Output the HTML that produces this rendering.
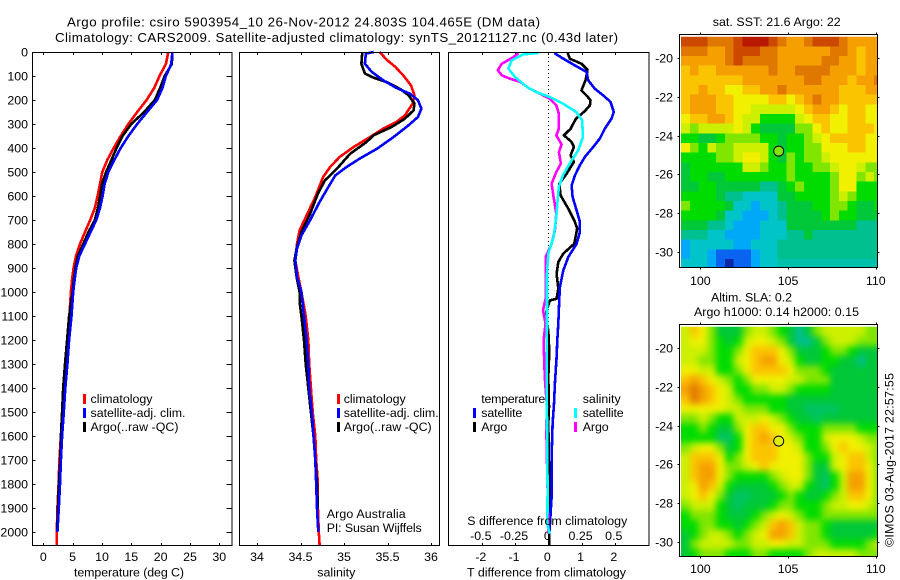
<!DOCTYPE html>
<html>
<head>
<meta charset="utf-8">
<title>Argo profile 5903954_10</title>
<style>
html,body{margin:0;padding:0;background:#fff;}
svg{display:block;}
text{font-family:"Liberation Sans",sans-serif;font-size:12.4px;fill:#000;}
text.big{font-size:13.3px;}
.frame{fill:none;stroke:#000;stroke-width:1;shape-rendering:crispEdges;}
.tick{stroke:#000;stroke-width:1;shape-rendering:crispEdges;}
.line{fill:none;stroke-width:2.6;stroke-linejoin:round;shape-rendering:crispEdges;}
</style>
</head>
<body>
<svg id="chart" xmlns="http://www.w3.org/2000/svg" width="900" height="580" viewBox="0 0 900 580">
<defs>
<clipPath id="clip-sst"><rect x="681" y="36.7" width="196.5" height="231"/></clipPath>
<clipPath id="clip-sla"><rect x="681" y="326.7" width="196.5" height="229.8"/></clipPath>
<filter id="smooth-sla" filterUnits="userSpaceOnUse" x="660" y="305" width="240" height="275" color-interpolation-filters="sRGB">
<feGaussianBlur stdDeviation="3.4"/>
<feComponentTransfer><feFuncA type="linear" slope="30"/></feComponentTransfer>
</filter>
</defs>
<rect x="0" y="0" width="900" height="580" fill="#fff"/>

<text class="big" x="67" y="26.5" textLength="473">Argo profile: csiro 5903954_10 26-Nov-2012 24.803S 104.465E (DM data)</text>
<text class="big" x="55" y="42" textLength="563">Climatology: CARS2009. Satellite-adjusted climatology: synTS_20121127.nc (0.43d later)</text>

<g clip-path="url(#clip-sst)"><g id="map-sst"></g></g>
<g clip-path="url(#clip-sla)"><g id="map-sla" filter="url(#smooth-sla)"></g></g>
<g id="ticks"></g>
<g id="series"></g>

<rect class="frame" x="32.5" y="52.5" width="199.5" height="493"/>
<rect class="frame" x="239.5" y="52.5" width="200" height="493"/>
<rect class="frame" x="448.5" y="52.5" width="200.5" height="493"/>
<rect class="frame" x="679.5" y="34.5" width="198" height="233"/>
<rect class="frame" x="679.5" y="324.5" width="198" height="232"/>

<g>
<rect x="83" y="394" width="3" height="10" fill="#f00"/>
<rect x="83" y="408" width="3" height="10" fill="#00f"/>
<rect x="83" y="422" width="3" height="10" fill="#000"/>
<text x="90.5" y="403" textLength="62">climatology</text>
<text x="90.5" y="417" textLength="95">satellite-adj. clim.</text>
<text x="90.5" y="431" textLength="88">Argo(..raw -QC)</text>
</g>
<g>
<rect x="337" y="394" width="3" height="10" fill="#f00"/>
<rect x="337" y="408" width="3" height="10" fill="#00f"/>
<rect x="337" y="422" width="3" height="10" fill="#000"/>
<text x="343.7" y="403" textLength="62">climatology</text>
<text x="343.7" y="417" textLength="95">satellite-adj. clim.</text>
<text x="343.7" y="431" textLength="88">Argo(..raw -QC)</text>
</g>
<text x="326.7" y="518" textLength="79">Argo Australia</text>
<text x="326.7" y="532" textLength="95">PI: Susan Wijffels</text>

<g>
<text x="481.3" y="403" textLength="64">temperature</text>
<rect x="473" y="408" width="3" height="10" fill="#00f"/>
<rect x="473" y="422" width="3" height="10" fill="#000"/>
<text x="481.3" y="417" textLength="41">satellite</text>
<text x="481.3" y="431" textLength="26">Argo</text>
<text x="582.7" y="403" textLength="38">salinity</text>
<rect x="574" y="408" width="3" height="10" fill="#0ff"/>
<rect x="574" y="422" width="3" height="10" fill="#f0f"/>
<text x="582.7" y="417" textLength="41">satellite</text>
<text x="582.7" y="431" textLength="26">Argo</text>
</g>

<text x="129" y="576.5" text-anchor="middle" textLength="110">temperature (deg C)</text>
<text x="336.3" y="576.5" text-anchor="middle" textLength="38">salinity</text>
<text x="467" y="576.5" textLength="159">T difference from climatology</text>
<text x="467.3" y="525" textLength="160">S difference from climatology</text>

<text x="776.7" y="26" text-anchor="middle" textLength="128">sat. SST: 21.6 Argo: 22</text>
<text x="711" y="301.5" textLength="81">Altim. SLA: 0.2</text>
<text x="694" y="316" textLength="165">Argo h1000: 0.14 h2000: 0.15</text>
<text x="893.5" y="460" text-anchor="middle" textLength="174" transform="rotate(-90 893.5 460)">©IMOS 03-Aug-2017 22:57:55</text>
</svg>

<script>
// ---- profile data ----
const depthLevels = [0,50,100,150,200,250,300,350,400,450,500,550,600,650,700,750,800,850,900,950,1000,1100,1200,1300,1400,1500,1600,1700,1800,1900,2000,2054];
const tempClimatology = [21.3,20.9,19.8,18.9,17.6,16,14.5,13.2,12,10.9,10.05,9.66,9.26,8.8,8,7.1,6.25,5.57,5.17,4.9,4.7,4.45,4.1,3.8,3.5,3.2,3,2.75,2.6,2.4,2.3,2.3];
const tempSatellite = [22,21.8,20.9,20.3,19.4,17.7,16,14.5,13.2,12.1,11.1,10.45,10.1,9.66,9.03,8.07,7.1,6.14,5.6,5.34,5.1,4.8,4.4,4.1,3.75,3.5,3.2,3,2.85,2.65,2.4];
const tempArgo = [22,21.9,20.7,19.9,19,17.2,15,13.5,12.5,11.6,10.7,10,9.7,9.3,8.8,7.7,6.8,5.9,5.45,5.2,5,4.4,4.05,3.7,3.4,3.2,3,2.9,2.65,2.5,2.35];

const salClimDepths = [0,32,62,97,139,180,215,264,292,319,354,396,437,479,521,604,681,743,799,868,937,1000,1100,1200,1300,1400,1500,1600,1700,1800,1900,2000,2054];
const salClimatology = [35.41,35.49,35.59,35.68,35.77,35.81,35.79,35.7,35.6,35.45,35.3,35.11,34.95,34.84,34.76,34.67,34.57,34.49,34.46,34.44,34.475,34.51,34.56,34.59,34.6,34.62,34.64,34.67,34.68,34.7,34.7,34.71,34.72];
const salSatDepths = [0,7,49,83,118,149,174,201,236,271,306,354,403,444,479,514,563,625,701,764,819,868,937,1000,1100,1200,1300,1400,1500,1600,1700,1800,1900,2000];
const salSatellite = [35.34,35.25,35.24,35.32,35.45,35.6,35.76,35.85,35.89,35.85,35.74,35.57,35.38,35.18,35.03,34.9,34.82,34.72,34.61,34.51,34.46,34.44,34.46,34.51,34.54,34.57,34.59,34.6,34.63,34.65,34.67,34.68,34.69,34.705];
const salArgoDepths = [0,49,90,107,125,153,180,215,243,278,312,347,375,424,486,535,590,674,750,812,868,937,1000,1040,1100,1200,1300,1400,1500,1600,1700,1800,1900];
const salArgo = [35.21,35.2,35.24,35.34,35.49,35.64,35.74,35.81,35.8,35.7,35.55,35.34,35.26,35.07,34.92,34.78,34.7,34.61,34.51,34.46,34.43,34.455,34.49,34.49,34.51,34.54,34.56,34.59,34.62,34.65,34.67,34.69,34.7];

const tDiffArgoDepths = [4,28,49,74,90,118,160,181,201,222,246,278,320,347,375,396,431,458,507,549,597,653,708,736,799,840,875,924,986,1028,1035,1076,1104,1160,1250,1354,1479,1549,1715,1826,1965,2054];
const tDiffArgo = [0.58,0.65,1,1.18,1.16,1.12,1,1.15,1.27,1.25,1.1,0.83,0.67,0.47,0.7,0.77,0.67,0.77,0.55,0.33,0.37,0.6,0.8,0.87,0.78,0.45,0.3,0.25,0.3,0.25,0.05,-0.05,-0.07,0,0.03,0,0.02,0,0.02,0.05,0.03,0.03];
const tDiffSatDepths = [4,28,60,83,118,153,181,208,250,278,319,361,396,437,472,514,556,604,660,708,750,799,854,910,979,1028,1132,1201,1271,1382,1465,1549,1688,1854,1965,2007];
const tDiffSatellite = [0.18,0.45,0.85,1.15,1.2,1.4,1.65,1.87,1.97,1.9,1.7,1.55,1.35,1.1,0.95,0.8,0.7,0.73,0.85,0.95,0.95,0.85,0.6,0.45,0.35,0.33,0.3,0.27,0.25,0.2,0.17,0.13,0.1,0.1,0.05,0.03];
const sDiffArgoDepths = [4,21,49,76,97,111,125,153,174,194,222,257,292,319,347,385,417,465,500,549,604,674,743,799,854,924,1028,1076,1132,1201,1299,1368,1479,1563,1826,2007];
const sDiffArgo = [-0.225,-0.26,-0.35,-0.38,-0.35,-0.29,-0.21,-0.14,-0.06,0.01,0.06,0.08,0.08,0.08,0.06,0.1,0.08,0.095,0.06,0.025,0.04,0.06,0.05,0.025,-0.02,-0.02,-0.02,-0.04,-0.02,-0.035,-0.03,-0.025,-0.01,-0.015,-0.005,0];
const sDiffSatDepths = [4,10,35,69,104,146,167,187,215,250,285,354,410,465,514,562,618,687,771,840,924,1028,1132,1340,1549,1826,1965,2007];
const sDiffSatellite = [-0.075,-0.19,-0.275,-0.3,-0.25,-0.16,-0.09,0.01,0.11,0.21,0.255,0.26,0.225,0.16,0.11,0.08,0.07,0.06,0.04,0,-0.01,-0.01,-0.01,-0.012,-0.01,-0.005,-0.007,0.01];

// ---- tick labels ----
const depthTicks = [0,100,200,300,400,500,600,700,800,900,1000,1100,1200,1300,1400,1500,1600,1700,1800,1900,2000];
const tempTicks = [0,5,10,15,20,25,30];
const salTicks = [34,34.5,35,35.5,36];
const tDiffTicks = [-2,-1,0,1,2];
const sDiffTicks = [-0.5,-0.25,0,0.25,0.5];
const lonTicks = [100,105,110];
const latTicks = [-20,-22,-24,-26,-28,-30];

// ---- map data (colour level per half-degree cell, north to south) ----
const sstLevels = [
[13,13,13,12,12,12,13,14,14,14,13,12,11,11,12,13,13,13,12,11,11,11,11],
[12,12,12,11,11,12,13,13,13,12,12,11,11,11,11,11,11,12,12,11,10,11,11],
[11,11,11,11,11,12,13,12,12,12,12,11,11,11,11,11,12,12,11,11,10,11,11],
[10,11,10,10,11,11,11,11,11,11,12,11,11,12,12,12,12,11,11,11,10,11,11],
[10,10,10,10,10,10,10,11,11,11,11,11,11,11,12,12,11,11,11,10,11,11,12],
[10,10,11,10,10,9,9,10,10,11,11,12,11,11,11,11,11,11,10,10,10,11,11],
[10,11,11,11,10,10,9,9,9,9,10,10,9,10,11,12,11,11,10,10,10,10,10],
[10,11,11,11,10,10,9,9,8,8,8,8,8,9,10,11,11,10,9,10,10,9,9],
[9,10,10,11,11,10,9,8,8,6,6,6,6,8,9,10,10,9,9,10,10,9,9],
[8,7,8,8,8,8,9,8,6,5,5,5,5,7,7,9,10,9,9,10,10,10,9],
[6,6,5,5,6,7,7,7,7,6,6,5,6,6,7,8,9,10,10,10,10,9,9],
[9,7,6,8,7,7,8,8,8,8,6,5,6,6,7,7,9,9,9,10,10,9,9],
[6,6,6,6,7,7,8,9,9,8,6,5,7,6,7,7,8,9,9,9,9,9,9],
[5,6,6,6,6,6,6,8,8,7,6,6,7,6,6,7,7,8,9,9,8,7,7],
[5,6,6,5,5,6,6,6,6,6,6,6,7,6,6,6,6,7,9,9,7,8,7],
[5,5,6,6,5,5,5,5,5,4,4,5,6,7,6,6,6,7,9,9,6,6,6],
[6,6,6,6,5,4,4,3,3,3,3,5,5,6,6,6,6,7,8,7,6,6,6],
[7,6,6,6,6,5,3,3,2,3,3,4,5,5,5,6,6,7,7,6,5,5,6],
[6,6,6,6,5,3,3,2,2,2,3,4,5,5,5,5,6,7,6,6,5,5,5],
[5,5,5,4,4,3,2,2,2,3,3,3,5,5,5,5,5,5,5,5,4,4,4],
[4,4,4,3,3,2,2,2,2,3,3,3,4,4,5,4,4,4,4,4,4,4,4],
[2,3,3,3,3,3,2,2,3,3,3,4,4,4,4,4,4,4,4,4,4,4,4],
[2,3,3,2,1,1,1,1,2,3,3,4,4,4,4,4,4,4,4,4,4,4,4],
[3,3,3,2,1,0,1,1,2,3,3,3.5,3.5,3.5,3.5,3.5,3.5,3.5,3.5,3.5,3.5,3.5,3.5]
];
const slaLevels = [
[8,10,9,7,5,5,5,7,8,8,7,6,5,4,5,7,8,8,8,8,8,7,7],
[8,9,9,7,6,5,6,8,9,9,8,7,5,4,4,5,7,8,8,8,7,7,7],
[8,8,8,7,6,6,7,9,10,10,10,9,7,5,5,5,6,7,7,6,5,5,5],
[8,8,7,7,6,6,8,9,10,11,11,9,8,6,5,5,6,6,5,5,4,5,5],
[9,9,8,8,6,6,7,9,10,10,10,10,9,7,7,7,6,5,5,5,5,5,5],
[10,11,10,9,8,7,6,7,9,9,9,9,8,8,7,7,7,5,5,5,5,5,5],
[11,12,11,10,9,8,6,6,7,7,8,8,7,6,6,6,6,5,5,5,5,5,5],
[10,12,11,10,9,8,7,6,6,6,6,6,5,5,5,5,5,5,5,5,5,5,5],
[9,9,9,9,9,8,8,7,7,7,6,6,5,5,4.5,4.5,4.5,4.5,5,5,5,5,5],
[7,7,8,7,6,6,8,8,8,9,8,7,6,5,5,4.5,5,5,5,5,5,5,5],
[6,6,7,6,5,5,7,9,10,10,9,9,7,6,6,6,7,7,7,7,6,6,6],
[6,6,6,6,4.5,4.5,6,9,10,11,10,9,8,7,6,6,8,9,9,9,8,7,7],
[7,8,9,9,7,5,6,9,10,10,10,9,9,8,6,6,7,9,10,9,9,8,7],
[8,10,10,10,9,6,7,9,10,10,10,9,9,9,7,6,6,8,9,10,10,8,7],
[8,10,11,11,9,7,7,8,9,10,9,9,9,9,7,5,5,8,9,10,10,9,7],
[8,10,11,11,9,7,6,6,6,6,7,8,9,9,7,5,4.5,6,8,11,11,9,7],
[8,9,11,10,8,6,5,5,5,5,6,7,8,8,6,5,4.5,6,8,11,11,9,7],
[8,9,10,9,7,5,4.5,4.5,5,5,5,6,7,6,5,5,6,7,8,10,10,9,7],
[7,8,8,8,6,5,4.5,5,5,5,6,7,7,6,6,6,7,8,8,9,9,8,7],
[6,7,7,7,6,5,5,5,6,7,8,9,8,7,6,6,7,7,7,7,7,7,7],
[6,6,7,7,6,6,5,6,7,8,10,11,10,8,7,7,6,5,5,5,5,5,5],
[5,6,7,8,8,7,6,7,8,9,11,11,10,8,7,7,6,5,5,5,5,5,6],
[5,7,8,8,8,8,7,7,8,8,9,9,8,8,7,7,7,6,6,6,6,7,8],
[5,6,7,7,7,6,6,6,7,7,6,6,6,6,7,8,8,8,8,8,7,7,7]
];
const argoLon = 104.465;
const argoLat = -24.803;
const argoSstLevel = 7;
const argoSlaLevel = 8.5;

// ---- colour scale ----
const levelColors = [[10,40,168],[10,100,240],[0,168,248],[0,196,200],[0,192,144],[0,200,56],[0,220,0],[128,230,0],[204,240,0],[240,240,0],[251,196,0],[245,160,0],[224,120,0],[204,72,0],[184,24,0]];

// ---- axis functions ----
const NS = 'http://www.w3.org/2000/svg';
const svg = document.getElementById('chart');
const tickG = document.getElementById('ticks');
const seriesG = document.getElementById('series');
function yDepth(d){return 52 + d*0.24;}
function xTemp(t){return 43.3 + t*5.867;}
function xSal(s){return 257 + (s-34)*87;}
function xTDiff(t){return 548.3 + t*33.25;}
function xSDiff(s){return 548.3 + s*133;}
function xLon(l){return 700.3 + (l-100)*17.55;}
function ySst(l){return 58.3 + (-20-l)*19.33;}
function ySla(l){return 348.3 + (-20-l)*19.33;}
function colorFor(v){
  const c = Math.max(0,Math.min(levelColors.length-1,v));
  const i = Math.min(levelColors.length-2,Math.floor(c));
  const f = c-i;
  const a = levelColors[i], b = levelColors[i+1];
  return 'rgb('+Math.round(a[0]+(b[0]-a[0])*f)+','+Math.round(a[1]+(b[1]-a[1])*f)+','+Math.round(a[2]+(b[2]-a[2])*f)+')';
}
function make(tag,attrs,parent){
  const el = document.createElementNS(NS,tag);
  for(const k in attrs){el.setAttribute(k,attrs[k]);}
  parent.appendChild(el);
  return el;
}
function tickLine(x1,y1,x2,y2){
  const el = make('line',{x1:x1,y1:y1,x2:x2,y2:y2,'class':'tick'},tickG);
  
  
}
function tickText(str,x,y,anchor){
  const el = make('text',{x:x,y:y,'text-anchor':anchor},tickG);
  el.textContent = str;
  
  
}
function drawLine(depths,values,xFn,color,name){
  const pts = values.map(function(v,i){return xFn(v).toFixed(1)+','+yDepth(depths[i]).toFixed(1);}).join(' ');
  const el = make('polyline',{points:pts,'class':'line',stroke:color},seriesG);
  
  
}
function drawMap(groupId,levels,yFn){
  const g = document.getElementById(groupId);
  const lonStart = 98.9, latStart = -18.88, step = 0.5;
  levels.forEach(function(row,r){
    row.forEach(function(v,c){
      const x = xLon(lonStart+c*step);
      const y = yFn(latStart-r*step);
      const el = make('rect',{x:x.toFixed(1),y:y.toFixed(1),width:(xLon(lonStart+(c+1)*step)-x+0.4).toFixed(1),height:(yFn(latStart-(r+1)*step)-y+0.4).toFixed(1),fill:colorFor(v),'shape-rendering':'crispEdges'},g);
      
      
    });
  });
}
function drawMarker(yFn,level){
  const el = make('circle',{cx:xLon(argoLon).toFixed(1),cy:yFn(argoLat).toFixed(1),r:5,fill:colorFor(level),stroke:'#000','stroke-width':1},svg);
  
  
}

// ---- depth axis ----
depthTicks.forEach(function(d){
  const y = Math.round(yDepth(d))+0.5;
  tickLine(32.5,y,35.5,y);
  tickLine(226.5,y,232,y);
  tickText(String(d),28,y+4,'end');
});
// ---- x axes ----
tempTicks.forEach(function(t){
  const x = Math.round(xTemp(t))+0.5;
  tickLine(x,52.5,x,55);tickLine(x,543,x,545.5);
  tickText(String(t),xTemp(t),561,'middle');
});
salTicks.forEach(function(s){
  const x = Math.round(xSal(s))+0.5;
  tickLine(x,52.5,x,55);tickLine(x,543,x,545.5);
  tickText(String(s),xSal(s),561,'middle');
});
tDiffTicks.forEach(function(t){
  const x = Math.round(xTDiff(t))+0.5;
  tickLine(x,52.5,x,55);tickLine(x,543,x,545.5);
  tickText(String(t),xTDiff(t)-1,561,'middle');
});
sDiffTicks.forEach(function(s){
  tickText(String(s),xSDiff(s)-1,540,'middle');
});
// ---- zero reference ----
const zeroLine = make('line',{x1:548.5,y1:53,x2:548.5,y2:545,stroke:'#000','stroke-width':1,'stroke-dasharray':'1 3','shape-rendering':'crispEdges'},seriesG);



// ---- heatmaps ----
drawMap('map-sst',sstLevels,ySst);
drawMap('map-sla',slaLevels,ySla);
[[ySst,34.5,267.5,285],[ySla,324.5,556.5,573]].forEach(function(m){
  const yFn = m[0];
  lonTicks.forEach(function(l){
    const x = Math.round(xLon(l))+0.5;
    tickLine(x,m[1]-2,x,m[1]);
    tickLine(x,m[2],x,m[2]+2);
    tickText(String(l),xLon(l),m[3],'middle');
  });
  latTicks.forEach(function(l){
    const y = Math.round(yFn(l))+0.5;
    tickLine(677.5,y,679.5,y);
    tickLine(877.5,y,879.5,y);
    tickText(String(l),673,y+4,'end');
  });
});
drawMarker(ySst,argoSstLevel);
drawMarker(ySla,argoSlaLevel);

// ---- series ----
drawLine(depthLevels,tempClimatology,xTemp,'#f00','temperature-climatology-line');
drawLine(depthLevels,tempArgo,xTemp,'#000','temperature-argo-line');
drawLine(depthLevels,tempSatellite,xTemp,'#00f','temperature-satellite-line');
drawLine(salClimDepths,salClimatology,xSal,'#f00','salinity-climatology-line');
drawLine(salArgoDepths,salArgo,xSal,'#000','salinity-argo-line');
drawLine(salSatDepths,salSatellite,xSal,'#00f','salinity-satellite-line');
drawLine(tDiffArgoDepths,tDiffArgo,xTDiff,'#000','t-difference-argo-line');
drawLine(tDiffSatDepths,tDiffSatellite,xTDiff,'#00f','t-difference-satellite-line');
drawLine(sDiffArgoDepths,sDiffArgo,xSDiff,'#f0f','s-difference-argo-line');
drawLine(sDiffSatDepths,sDiffSatellite,xSDiff,'#0ff','s-difference-satellite-line');
</script>
</body>
</html>
